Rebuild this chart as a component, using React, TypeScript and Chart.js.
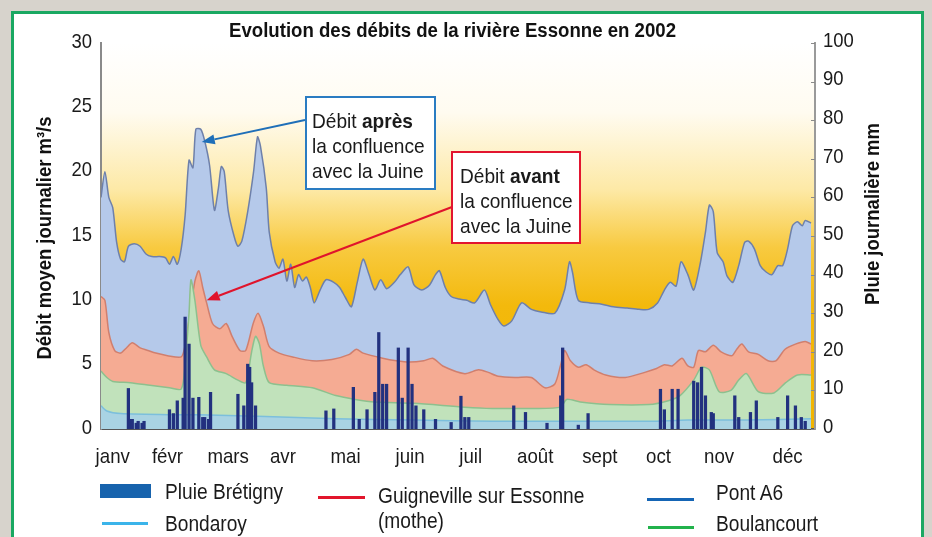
import React, { useEffect, useRef } from 'react';
import { Chart, registerables } from 'chart.js';
Chart.register(...registerables);

const FONT = "'Liberation Sans', Arial, Helvetica, sans-serif";
const SX = 0.89; // horizontal condensing of the Helvetica-Condensed look

const chartTitle = 'Evolution des débits de la rivière Essonne en 2002';
const leftTitle = 'Débit moyen journalier m³/s';
const rightTitle = 'Pluie journalière mm';

const monthLabels = ['janv', 'févr', 'mars', 'avr', 'mai', 'juin', 'juil', 'août', 'sept', 'oct', 'nov', 'déc'];
const monthTicks = [6, 34, 65, 93, 125, 158, 189, 222, 255, 285, 316, 351];
const leftTicks = [0, 5, 10, 15, 20, 25, 30];
const rightTicks = [0, 10, 20, 30, 40, 50, 60, 70, 80, 90, 100];

// Pont A6 (débit après la confluence), m3/s
const pontDays = [0, 2, 4, 6, 8, 10, 12, 14, 17, 20, 23, 26, 30, 33, 35, 37, 39, 41, 43, 45, 47, 48.5, 51, 53, 55.5, 58, 60, 61.5, 63, 65, 68, 70, 72, 75, 78, 80, 81.5, 84.5, 86, 89, 91, 93, 95, 97, 99, 101, 103, 105, 107, 109, 112, 115, 119, 122, 125, 128, 131, 134, 137, 140, 143, 146, 150, 153, 157, 160, 164, 168, 171, 173, 176, 179, 183, 187, 191, 196, 199, 203, 206, 210, 215, 220, 225, 232, 237, 239.5, 241, 244, 250, 256, 262, 269, 275, 280, 284.5, 288, 291, 294, 296.5, 300, 303, 306.5, 309, 311, 313, 315, 318, 320, 323, 326, 329, 331, 334, 337, 340, 343, 346, 348.5, 351, 353.5, 356, 358.5, 360, 363];
const pontVals = [18.0, 20.0, 18.0, 17.2, 14.5, 13.2, 13.0, 14.2, 14.4, 14.2, 13.6, 13.4, 13.4, 13.3, 12.8, 13.4, 12.8, 14.0, 16.6, 20.9, 20.3, 23.3, 23.3, 22.4, 20.5, 17.0, 18.7, 20.4, 20.0, 17.0, 15.0, 14.2, 14.6, 16.9, 20.0, 22.7, 22.0, 18.7, 15.3, 13.0, 12.5, 13.2, 11.5, 12.8, 11.0, 12.0, 11.5, 11.8, 11.0, 9.8, 10.8, 11.6, 11.4, 11.0, 10.2, 9.5, 11.4, 13.2, 12.0, 10.8, 11.6, 10.9, 11.4, 12.0, 12.6, 11.2, 10.8, 11.2, 12.0, 12.3, 11.0, 10.3, 10.1, 10.0, 9.8, 10.8, 9.7, 8.5, 8.0, 8.4, 9.8, 9.3, 9.1, 9.0, 10.8, 13.0, 12.2, 10.0, 9.8, 9.7, 9.5, 9.4, 9.3, 9.3, 9.8, 10.8, 11.4, 11.1, 13.0, 12.0, 10.8, 13.0, 15.3, 17.4, 16.9, 13.7, 13.0, 11.9, 11.4, 12.7, 14.5, 14.6, 14.0, 12.7, 12.2, 12.0, 12.7, 12.7, 14.0, 15.8, 16.1, 15.8, 16.2, 16.0];

// Guigneville sur Essonne (mothe) (débit avant la confluence), m3/s
const guigDays = [0, 2, 4, 7, 10, 13, 16, 20, 24, 28, 34, 41, 43, 45, 48, 50, 52, 54, 57, 60.7, 64, 67, 71, 74, 77.8, 80.3, 83, 86, 91, 98, 108, 118, 127, 130.5, 134, 144, 151, 157.7, 165, 169.6, 174.7, 186, 193, 198, 203, 212, 220, 227, 232, 235, 237, 240, 244, 248, 252, 258, 268, 278, 284, 288, 292, 297, 300, 303, 305.4, 309, 313, 317, 322.5, 325, 327.6, 331, 336, 341, 345, 349.7, 355, 360, 363];
const guigVals = [10.3, 10.0, 7.5, 6.1, 5.9, 6.3, 6.7, 6.3, 6.1, 5.9, 5.7, 5.6, 6.5, 8.5, 11.5, 12.3, 11.0, 9.8, 8.2, 7.8, 8.2, 7.2, 6.1, 6.1, 8.2, 9.0, 8.0, 6.4, 5.9, 5.6, 5.3, 5.4, 5.8, 6.2, 5.9, 5.5, 5.3, 5.2, 5.3, 5.5, 4.9, 4.3, 4.6, 4.4, 4.1, 4.0, 4.0, 3.2, 3.5, 5.0, 6.1, 5.3, 4.8, 5.0, 4.6, 4.2, 4.0, 4.4, 4.7, 5.0, 4.9, 5.5, 4.9, 4.8, 6.1, 6.0, 6.5, 6.0, 5.7, 6.2, 6.6, 6.0, 5.8, 5.3, 5.3, 6.2, 6.6, 6.8, 6.6];

// Boulancourt, m3/s
const boulDays = [0, 3, 6, 15, 25, 35, 41, 43, 45, 46, 48, 51, 54, 58, 64, 70, 74, 77, 79, 81, 83, 86, 95, 108, 120, 130, 140, 160, 186, 200, 220, 235, 238, 245, 260, 280, 290, 296, 303, 307, 311, 316, 322, 326, 330, 336, 344, 350, 356, 363];
const boulVals = [4.5, 4.0, 3.7, 3.6, 3.4, 3.2, 3.1, 5.0, 9.0, 11.6, 10.0, 6.5, 5.6, 4.6, 4.3, 3.8, 3.6, 6.0, 7.2, 6.6, 4.9, 3.6, 3.4, 3.2, 2.6, 2.3, 2.1, 2.0, 1.7, 1.6, 1.6, 1.7, 2.3, 2.1, 1.9, 1.9, 2.2, 2.6, 3.8, 4.8, 4.6, 2.9, 3.0, 3.8, 4.3, 2.9, 2.8, 3.6, 4.2, 4.2];

// Bondaroy, m3/s
const bondDays = [0, 3, 10, 40, 50, 80, 120, 160, 200, 240, 280, 300, 330, 363];
const bondVals = [1.8, 1.4, 1.2, 1.1, 1.1, 1.0, 0.8, 0.7, 0.6, 0.6, 0.6, 0.7, 0.7, 0.8];

// Pluie Brétigny, mm
const rainDays = [14, 15, 16, 18, 19, 21, 22, 35, 37, 39, 42, 43, 45, 47, 50, 52, 53, 55, 56, 70, 73, 75, 76, 77, 79, 115, 119, 129, 132, 136, 140, 142, 144, 146, 152, 154, 157, 159, 161, 165, 171, 179, 184, 186, 188, 211, 217, 228, 235, 236, 244, 249, 286, 288, 292, 295, 303, 305, 307, 309, 312, 313, 324, 326, 332, 335, 346, 351, 355, 358, 360];
const rainVals = [10.5, 2.5, 2.5, 1.5, 2, 1.5, 2, 5, 4, 7.3, 8, 29, 22, 8, 8.2, 3, 3, 2.5, 9.5, 9, 6, 16.8, 16, 12, 6, 4.7, 5.2, 10.8, 2.5, 5, 9.5, 25, 11.6, 11.6, 21, 8, 21, 11.6, 6, 5, 2.5, 1.7, 8.5, 3, 3, 6, 4.3, 1.5, 8.6, 21, 1, 4, 10.3, 5, 10.3, 10.3, 12.4, 12, 16, 8.6, 4.3, 4, 8.6, 3, 4.3, 7.3, 3, 8.6, 6, 3, 2];

const toXY = (d: number[], v: number[]) => d.map((x, i) => ({ x, y: v[i] }));

const bgPlugin = {
  id: 'bgGradient',
  beforeDraw(chart: any) {
    const { ctx, chartArea: a } = chart;
    const g = ctx.createLinearGradient(0, a.top, 0, a.bottom);
    g.addColorStop(0, '#ffffff');
    g.addColorStop(0.18, '#fffbf0');
    g.addColorStop(0.38, '#fde9a6');
    g.addColorStop(0.53, '#f8ca40');
    g.addColorStop(0.68, '#f3b90c');
    g.addColorStop(1, '#f2b400');
    ctx.save();
    ctx.fillStyle = g;
    ctx.fillRect(a.left, a.top, a.right - a.left, a.bottom - a.top);
    ctx.restore();
  },
};

// condensed text: draw with horizontal scale sx, or fit to a target width
function cText(ctx: CanvasRenderingContext2D, text: string, x: number, y: number, align: CanvasTextAlign, sx: number, rot = 0) {
  ctx.save();
  ctx.translate(x, y);
  if (rot) ctx.rotate(rot);
  ctx.scale(sx, 1);
  ctx.textAlign = align;
  ctx.fillText(text, 0, 0);
  ctx.restore();
}
function fitScale(ctx: CanvasRenderingContext2D, text: string, target: number) {
  return target / ctx.measureText(text).width;
}

function arrow(ctx: CanvasRenderingContext2D, x1: number, y1: number, x2: number, y2: number, color: string) {
  ctx.save();
  ctx.strokeStyle = color;
  ctx.fillStyle = color;
  ctx.lineWidth = 2;
  const ang = Math.atan2(y2 - y1, x2 - x1);
  const hl = 13, hw = 5;
  const bx = x2 - hl * Math.cos(ang), by = y2 - hl * Math.sin(ang);
  ctx.beginPath();
  ctx.moveTo(x1, y1);
  ctx.lineTo(bx, by);
  ctx.stroke();
  ctx.beginPath();
  ctx.moveTo(x2, y2);
  ctx.lineTo(bx + hw * Math.sin(ang), by - hw * Math.cos(ang));
  ctx.lineTo(bx - hw * Math.sin(ang), by + hw * Math.cos(ang));
  ctx.closePath();
  ctx.fill();
  ctx.restore();
}

function noteBox(ctx: CanvasRenderingContext2D, x: number, y: number, w: number, h: number, color: string, bold: string, tx: number, baselines: number[]) {
  ctx.save();
  ctx.fillStyle = '#ffffff';
  ctx.fillRect(x, y, w, h);
  ctx.strokeStyle = color;
  ctx.lineWidth = 2;
  ctx.strokeRect(x, y, w, h);
  ctx.fillStyle = '#1a1a1a';
  ctx.textBaseline = 'alphabetic';
  const s = 0.91;
  ctx.font = `21px ${FONT}`;
  const first = 'Débit ';
  cText(ctx, first, tx, baselines[0], 'left', s);
  const wFirst = ctx.measureText(first).width * s;
  ctx.font = `bold 21px ${FONT}`;
  cText(ctx, bold, tx + wFirst, baselines[0], 'left', s);
  ctx.font = `21px ${FONT}`;
  cText(ctx, 'la confluence', tx, baselines[1], 'left', s);
  cText(ctx, 'avec la Juine', tx, baselines[2], 'left', s);
  ctx.restore();
}

const overlayPlugin = {
  id: 'overlay',
  afterDraw(chart: any) {
    const { ctx, chartArea: a } = chart;
    const xs = chart.scales.x, ys = chart.scales.y, y2s = chart.scales.y2;
    ctx.save();
    ctx.fillStyle = '#111111';
    ctx.textBaseline = 'alphabetic';
    ctx.font = `bold 20px ${FONT}`;
    cText(ctx, chartTitle, 452.5, 37, 'center', fitScale(ctx, chartTitle, 447));

    ctx.font = `bold 21px ${FONT}`;
    ctx.textBaseline = 'middle';
    cText(ctx, leftTitle, 45, 238, 'center', fitScale(ctx, leftTitle, 243), -Math.PI / 2);
    cText(ctx, rightTitle, 873, 214, 'center', fitScale(ctx, rightTitle, 182), -Math.PI / 2);

    // tick labels
    ctx.fillStyle = '#1a1a1a';
    ctx.font = `21px ${FONT}`;
    ctx.textBaseline = 'middle';
    leftTicks.forEach((v) => cText(ctx, String(v), a.left - 9, ys.getPixelForValue(v) - 1, 'right', 0.88));
    rightTicks.forEach((v) => cText(ctx, String(v), a.right + 8, y2s.getPixelForValue(v) - 2, 'left', 0.88));
    ctx.textBaseline = 'alphabetic';
    monthTicks.forEach((v, i) => cText(ctx, monthLabels[i], xs.getPixelForValue(v), a.bottom + 34, 'center', 0.89));
    ctx.restore();

    // small tick marks
    ctx.save();
    ctx.strokeStyle = '#8a8a8a';
    ctx.lineWidth = 1;
    rightTicks.forEach((v) => {
      const y = Math.round(y2s.getPixelForValue(v)) + 0.5;
      ctx.beginPath(); ctx.moveTo(a.right - 4, y); ctx.lineTo(a.right, y); ctx.stroke();
    });
    ctx.restore();

    // annotation arrows (tips anchored on data)
    arrow(ctx, 305, 120, xs.getPixelForValue(51.5), ys.getPixelForValue(22.3), '#1f6fb8');
    arrow(ctx, 452, 207, xs.getPixelForValue(54), ys.getPixelForValue(10), '#e0142c');
    noteBox(ctx, 306, 97, 129, 92, '#2a7cc2', 'après', 312, [128, 153, 178]);
    noteBox(ctx, 452, 152, 128, 91, '#e2152f', 'avant', 460, [183, 208, 233]);
  },
};

function ChartCanvas() {
  const ref = useRef<HTMLCanvasElement>(null);
  useEffect(() => {
    if (!ref.current) return;
    const lineDs = (label: string, d: number[], v: number[], fillC: string, lineC: string, order: number) => ({
      type: 'line' as const,
      label,
      data: toXY(d, v),
      xAxisID: 'x',
      yAxisID: 'y',
      backgroundColor: fillC,
      borderColor: lineC,
      borderWidth: 1.5,
      pointRadius: 0,
      tension: 0.25,
      fill: 'origin',
      order,
    });
    const chart = new Chart(ref.current, {
      type: 'line',
      data: {
        datasets: [
          lineDs('Pont A6', pontDays, pontVals, '#b5c9ea', '#6e80aa', 5),
          lineDs('Guigneville sur Essonne (mothe)', guigDays, guigVals, '#f5ab93', '#d07f6e', 4),
          lineDs('Boulancourt', boulDays, boulVals, '#c1e2bb', '#8dc08e', 3),
          lineDs('Bondaroy', bondDays, bondVals, '#a9d3e3', '#7cbfdc', 2),
          {
            type: 'bar' as const,
            label: 'Pluie Brétigny',
            data: toXY(rainDays, rainVals),
            xAxisID: 'x',
            yAxisID: 'y2',
            backgroundColor: '#22317f',
            barThickness: 2.6,
            order: 1,
          } as any,
        ],
      },
      options: {
        responsive: false,
        animation: false,
        layout: { padding: { top: 43, bottom: 68, left: 0, right: 0 } },
        plugins: { legend: { display: false }, tooltip: { enabled: false } },
        scales: {
          x: {
            type: 'linear',
            min: 0,
            max: 365,
            offset: false,
            grid: { display: false, drawTicks: false },
            border: { display: true, color: '#555555', width: 2 },
            afterFit: (scale: any) => { scale.height = 40; },
            ticks: { display: false },
          },
          y: {
            type: 'linear',
            position: 'left',
            min: 0,
            max: 30,
            grid: { display: false, drawTicks: false },
            border: { display: true, color: '#8a8a8a', width: 2 },
            afterFit: (scale: any) => { scale.width = 101; },
            ticks: { display: false, stepSize: 5 },
          },
          y2: {
            type: 'linear',
            position: 'right',
            min: 0,
            max: 100,
            grid: { display: false, drawTicks: false },
            border: { display: true, color: '#9a9a9a', width: 2 },
            afterFit: (scale: any) => { scale.width = 117; },
            ticks: { display: false, stepSize: 10 },
          },
        },
      },
      plugins: [bgPlugin, overlayPlugin],
    } as any);
    return () => chart.destroy();
  }, []);
  return <canvas ref={ref} width={932} height={537} style={{ position: 'absolute', left: 0, top: 0, width: 932, height: 537 }} />;
}

const legendText: React.CSSProperties = {
  position: 'absolute',
  fontFamily: FONT,
  fontSize: 22,
  lineHeight: '24px',
  color: '#1a1a1a',
  whiteSpace: 'nowrap',
  transform: 'scaleX(0.87)',
  transformOrigin: 'left center',
};

export default function App() {
  return (
    <div style={{ position: 'fixed', left: 0, top: 0, width: 932, height: 537, background: '#d7d3cc', overflow: 'hidden' }}>
      <div style={{ position: 'absolute', left: 11, top: 11, width: 907, height: 540, border: '3px solid #1aa862', background: '#ffffff' }} />
      <ChartCanvas />
      <div style={{ position: 'absolute', left: 100, top: 484, width: 51, height: 14, background: '#1763ad' }} />
      <div style={{ ...legendText, left: 165, top: 480 }}>Pluie Brétigny</div>
      <div style={{ position: 'absolute', left: 102, top: 522, width: 46, height: 3, background: '#3bb4ea' }} />
      <div style={{ ...legendText, left: 165, top: 512 }}>Bondaroy</div>
      <div style={{ position: 'absolute', left: 318, top: 496, width: 47, height: 3, background: '#e2162c' }} />
      <div style={{ ...legendText, left: 378, top: 484 }}>Guigneville sur Essonne</div>
      <div style={{ ...legendText, left: 378, top: 509 }}>(mothe)</div>
      <div style={{ position: 'absolute', left: 647, top: 498, width: 47, height: 3, background: '#1565b5' }} />
      <div style={{ ...legendText, left: 716, top: 481 }}>Pont A6</div>
      <div style={{ position: 'absolute', left: 648, top: 526, width: 46, height: 3, background: '#22b24c' }} />
      <div style={{ ...legendText, left: 716, top: 512 }}>Boulancourt</div>
    </div>
  );
}
